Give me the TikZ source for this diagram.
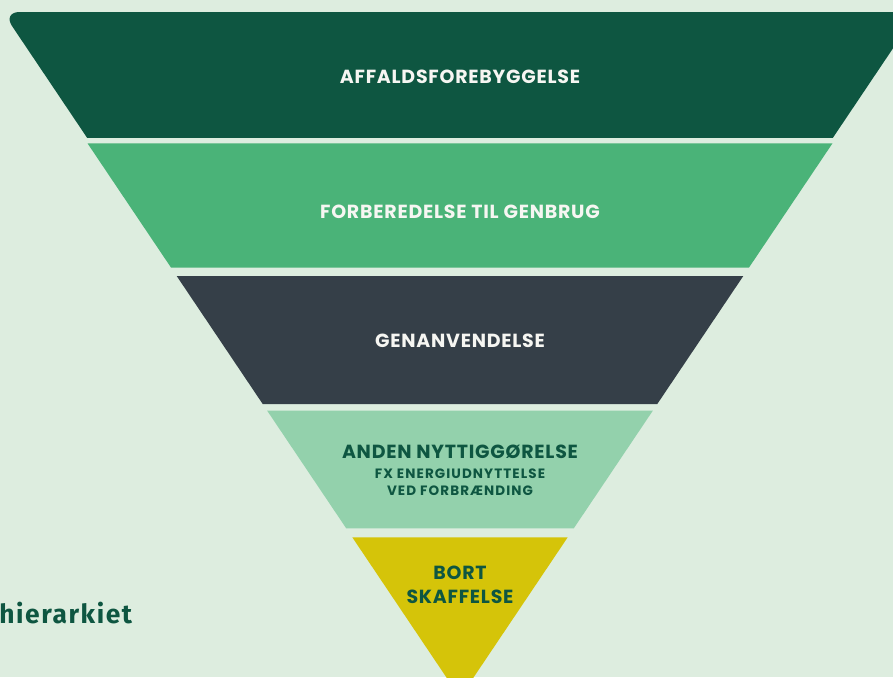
\documentclass[tikz,border=0pt]{standalone}
\usepackage{fontspec}
\newfontfamily\capfont{Poppins}[LetterSpace=4]
\newfontfamily\subfont{Poppins}[LetterSpace=8]
\newfontfamily\titlefont{Fira Sans}[LetterSpace=6]
\definecolor{bgc}{HTML}{DDEDDF}
\definecolor{cone}{HTML}{0E5641}
\definecolor{ctwo}{HTML}{4AB378}
\definecolor{cthree}{HTML}{353F48}
\definecolor{cfour}{HTML}{93D1AC}
\definecolor{cfive}{HTML}{D5C409}
\definecolor{lighttext}{HTML}{F6F6F2}
\tikzset{
  lab/.style={inner sep=0pt, font=\capfont\bfseries\fontsize{10.8}{12}\selectfont},
  sublab/.style={inner sep=0pt, font=\subfont\bfseries\fontsize{7.7}{8}\selectfont},
  ttl/.style={inner sep=0pt, font=\titlefont\bfseries\fontsize{15}{17}\selectfont, text=cone}
}
\begin{document}
\begin{tikzpicture}[x=0.02cm,y=-0.02cm]
\useasboundingbox (0,0) rectangle (893,677);
\clip (0,0) rectangle (893,677);
\fill[bgc] (0,0) rectangle (893,677);
% band 1 with rounded top corners
\begin{scope}
  \clip (-10,-10) rectangle (1000,137.7);
  \fill[cone, rounded corners=0.34cm] (2.6,12) -- (917.4,12) -- (757.5,250) -- (162.5,250) -- cycle;
\end{scope}
% band 2
\fill[ctwo] (87.5,143.3) -- (832.5,143.3) -- (748.9,267.7) -- (171.1,267.7) -- cycle;
% band 3
\fill[cthree] (176.7,276) -- (743.3,276) -- (657.3,404) -- (262.7,404) -- cycle;
% band 4
\fill[cfour] (267.2,410.7) -- (652.8,410.7) -- (573.8,528.3) -- (346.2,528.3) -- cycle;
% band 5
\fill[cfive] (352.3,537.3) -- (567.7,537.3) -- (460,697.6) -- cycle;
% labels
\node[lab, text=lighttext] (t1) at (460,76.5) {AFFALDSFOREBYGGELSE};
\node[lab, text=lighttext] (t2) at (460,212) {FORBEREDELSE TIL GENBRUG};
\node[lab, text=lighttext] (t3) at (460,341) {GENANVENDELSE};
\node[lab, text=cone] (t4) at (460,452.3) {ANDEN NYTTIGGØRELSE};
\node[sublab, text=cone] (t4b) at (460,473.3) {FX ENERGIUDNYTTELSE};
\node[sublab, text=cone] (t4c) at (460,490.7) {VED FORBRÆNDING};
\node[lab, text=cone] (t5) at (460,573) {BORT};
\node[lab, text=cone] (t5b) at (460,596.5) {SKAFFELSE};
\node[ttl, anchor=base west] (title) at (-1,623.3) {hierarkiet};
\end{tikzpicture}
\end{document}
